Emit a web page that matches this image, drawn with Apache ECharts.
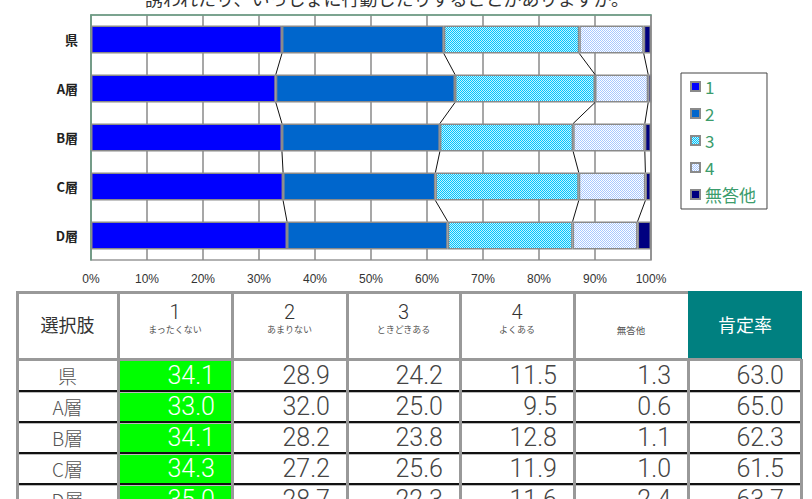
<!DOCTYPE html>
<html>
<head>
<meta charset="utf-8">
<script src="https://cdn.jsdelivr.net/npm/echarts@6/dist/echarts.min.js"></script>
<style>
  html, body { margin:0; padding:0; background:#fff; width:812px; height:499px; overflow:hidden; }
  #chart { position:absolute; left:0; top:0; width:812px; height:290px; }
  #tbl { position:absolute; left:0; top:0; width:812px; height:499px; pointer-events:none; font-family:"Noto Sans CJK JP","Noto Sans",sans-serif; }
  .cell { position:absolute; box-sizing:border-box; color:#444; white-space:nowrap; }
  .num { font-family: Roboto, "Noto Sans", sans-serif; font-weight:300; }
  .ln { position:absolute; }
</style>
</head>
<body>
<div id="chart"></div>
<div id="tbl"></div>
<script>
// ---- data ----
const titleText = "誘われたり、いっしょに行動したりすることがありますか。";
const categories = ["県", "A層", "B層", "C層", "D層"];
const seriesNames = ["1", "2", "3", "4", "無答他"];
const subLabels = ["まったくない", "あまりない", "ときどきある", "よくある", ""];
const s1 = [34.1, 33.0, 34.1, 34.3, 35.0];
const s2 = [28.9, 32.0, 28.2, 27.2, 28.7];
const s3 = [24.2, 25.0, 23.8, 25.6, 22.3];
const s4 = [11.5, 9.5, 12.8, 11.9, 11.6];
const s5 = [1.3, 0.6, 1.1, 1.0, 2.4];
const positiveRate = [63.0, 65.0, 62.3, 61.5, 63.7];
const xTicks = [0, 10, 20, 30, 40, 50, 60, 70, 80, 90, 100];
const headerFirst = "選択肢";
const headerLast = "肯定率";

const allSeries = [s1, s2, s3, s4, s5];

function pat(c1, c2) {
  const cv = document.createElement('canvas');
  cv.width = 2; cv.height = 2;
  const g = cv.getContext('2d');
  g.fillStyle = c2; g.fillRect(0, 0, 2, 2);
  g.fillStyle = c1; g.fillRect(0, 0, 1, 1); g.fillRect(1, 1, 1, 1);
  return { image: cv, repeat: 'repeat' };
}
const colors = ['#0000ff', '#0066cc', pat('#00c4ff', '#c4f3ff'), pat('#a8c8ff', '#ffffff'), '#000080'];

const BAR_W = 28;

// cumulative boundaries for connector lines
const connData = [];
for (let k = 1; k <= 4; k++) {
  const cum = categories.map((c, i) => {
    let s = 0; for (let j = 0; j < k; j++) s += allSeries[j][i]; return s;
  });
  for (let i = 0; i < categories.length - 1; i++) {
    connData.push([cum[i], i, cum[i + 1], i + 1]);
  }
}

const chart = echarts.init(document.getElementById('chart'), null, { renderer: 'svg' });
const barSeries = seriesNames.map((n, idx) => ({
  name: n,
  type: 'bar',
  stack: 'total',
  barWidth: BAR_W,
  data: allSeries[idx],
  itemStyle: { color: colors[idx], borderColor: '#8a8a8a', borderWidth: 1.5 },
  emphasis: { disabled: true },
  z: 2
}));

chart.setOption({
  animation: false,
  textStyle: { fontFamily: '"Noto Sans CJK JP","Noto Sans",sans-serif' },
  graphic: [{
    type: 'text', left: 145, top: -11,
    style: { text: titleText, font: '18px "Noto Sans CJK JP"', fill: '#333' }
  }],
  grid: { left: 91, top: 15, width: 560, height: 245, show: true, borderColor: '#999', borderWidth: 1.5, backgroundColor: '#fff' },
  legend: {
    orient: 'vertical', left: 681, top: 73,
    data: seriesNames,
    icon: 'rect',
    itemWidth: 9, itemHeight: 9, itemGap: 10,
    padding: [5, 11, 6, 9],
    borderColor: '#444', borderWidth: 1, backgroundColor: '#fff',
    itemStyle: { borderColor: '#8a8a8a', borderWidth: 2 },
    textStyle: { color: '#3c9c6c', fontSize: 17, fontFamily: '"Noto Sans CJK JP"' },
    selectedMode: false
  },
  xAxis: [{
    type: 'value', min: xTicks[0], max: xTicks[xTicks.length - 1], interval: xTicks[1] - xTicks[0],
    axisLine: { show: false }, axisTick: { show: false },
    splitLine: { show: true, lineStyle: { color: '#8a8a8a', width: 1.5 } },
    axisLabel: { formatter: '{value}%', fontSize: 12, color: '#333', margin: 13, fontFamily: '"Liberation Sans Narrow","Liberation Sans",sans-serif' }
  }, {
    type: 'value', position: 'top', min: xTicks[0], max: xTicks[xTicks.length - 1],
    axisLine: { show: true, lineStyle: { color: '#6a9f84', width: 1.5 } },
    axisTick: { show: false }, axisLabel: { show: false }, splitLine: { show: false }
  }],
  yAxis: {
    type: 'category', data: categories, inverse: true,
    axisTick: { show: false },
    axisLine: { show: true, lineStyle: { color: '#6a9f84', width: 1.5 } },
    axisLabel: { fontSize: 13, fontWeight: 'bold', color: '#222', margin: 13 }
  },
  series: barSeries.concat([{
    type: 'custom',
    name: 'conn',
    data: connData,
    encode: { x: [0, 2], y: [1, 3] },
    z: 5,
    silent: true,
    renderItem: function (params, api) {
      const a = api.coord([api.value(0), api.value(1)]);
      const b = api.coord([api.value(2), api.value(3)]);
      const h = BAR_W / 2;
      return { type: 'line', shape: { x1: a[0], y1: a[1] + h, x2: b[0], y2: b[1] - h }, style: { stroke: '#111', lineWidth: 1 } };
    }
  }])
});

// ---- table ----
const colX = [17, 118, 232, 347, 460, 574, 688, 801];
const rowY = [292, 360, 391, 422, 453, 484, 515];
const tbl = document.getElementById('tbl');
function add(cls, css, html) {
  const d = document.createElement('div');
  d.className = cls;
  Object.assign(d.style, css);
  if (html !== undefined) d.innerHTML = html;
  tbl.appendChild(d);
  return d;
}
// header
add('cell', { left: colX[0] + 'px', top: rowY[0] + 'px', width: (colX[1] - colX[0]) + 'px', height: (rowY[1] - rowY[0]) + 'px', lineHeight: (rowY[1] - rowY[0] - 3) + 'px', textAlign: 'center', fontSize: '18px', color: '#333' }, headerFirst);
for (let c = 0; c < 5; c++) {
  const x0 = colX[c + 1], w = colX[c + 2] - colX[c + 1];
  if (c < 4) {
    add('cell num', { left: x0 + 'px', top: (rowY[0] + 10) + 'px', width: w + 'px', height: '20px', lineHeight: '20px', textAlign: 'center', fontSize: '20px', color: '#333' }, seriesNames[c]);
    add('cell', { left: x0 + 'px', top: (rowY[0] + 32) + 'px', width: w + 'px', height: '12px', lineHeight: '12px', textAlign: 'center', fontSize: '9px', color: '#555' }, subLabels[c]);
  } else {
    add('cell', { left: x0 + 'px', top: (rowY[0] + 32) + 'px', width: w + 'px', height: '12px', lineHeight: '12px', textAlign: 'center', fontSize: '9.5px', color: '#555' }, seriesNames[c]);
  }
}
// teal header
add('cell', { left: colX[6] + 'px', top: (rowY[0] - 1) + 'px', width: (colX[7] - colX[6] + 1) + 'px', height: (rowY[1] - rowY[0] + 1) + 'px', background: '#008080', color: '#fff', textAlign: 'center', lineHeight: (rowY[1] - rowY[0] - 2) + 'px', fontSize: '18px' }, headerLast);

// data rows
categories.forEach((cat, r) => {
  const y0 = rowY[r + 1], h = rowY[r + 2] - rowY[r + 1];
  add('cell', { left: colX[0] + 'px', top: y0 + 'px', width: (colX[1] - colX[0]) + 'px', height: h + 'px', lineHeight: h + 'px', textAlign: 'center', fontSize: '19px', fontWeight: 300, color: '#555' }, cat);
  const vals = allSeries.map(s => s[r]).concat([positiveRate[r]]);
  vals.forEach((v, c) => {
    const x0 = colX[c + 1], w = colX[c + 2] - colX[c + 1];
    const css = { left: x0 + 'px', top: y0 + 'px', width: w + 'px', height: h + 'px', lineHeight: h + 'px', textAlign: 'right', paddingRight: '17px', fontSize: '25px', color: '#444' };
    if (c === 0) { css.background = '#00ff00'; css.color = '#fff'; }
    add('cell num', css, v.toFixed(1));
  });
});

// lines
add('ln', { left: colX[0] + 'px', top: (rowY[0] - 1) + 'px', width: (colX[6] - colX[0]) + 'px', height: '3px', background: '#999' });
add('ln', { left: colX[0] + 'px', top: (rowY[1] - 2) + 'px', width: (colX[7] - colX[0]) + 'px', height: '3px', background: '#999' });
for (let r = 2; r < rowY.length - 1; r++) {
  add('ln', { left: colX[0] + 'px', top: (rowY[r] - 1) + 'px', width: (colX[7] - colX[0]) + 'px', height: '2px', background: '#111' });
  add('ln', { left: colX[0] + 'px', top: (rowY[r] + 1) + 'px', width: (colX[7] - colX[0]) + 'px', height: '1px', background: '#bbb' });
}
colX.forEach((x, i) => {
  const top = (i >= 6) ? rowY[1] - 1 : rowY[0] - 1;
  add('ln', { left: (x - 1) + 'px', top: top + 'px', width: '3px', height: (520 - top) + 'px', background: '#999' });
});
</script>
</body>
</html>
